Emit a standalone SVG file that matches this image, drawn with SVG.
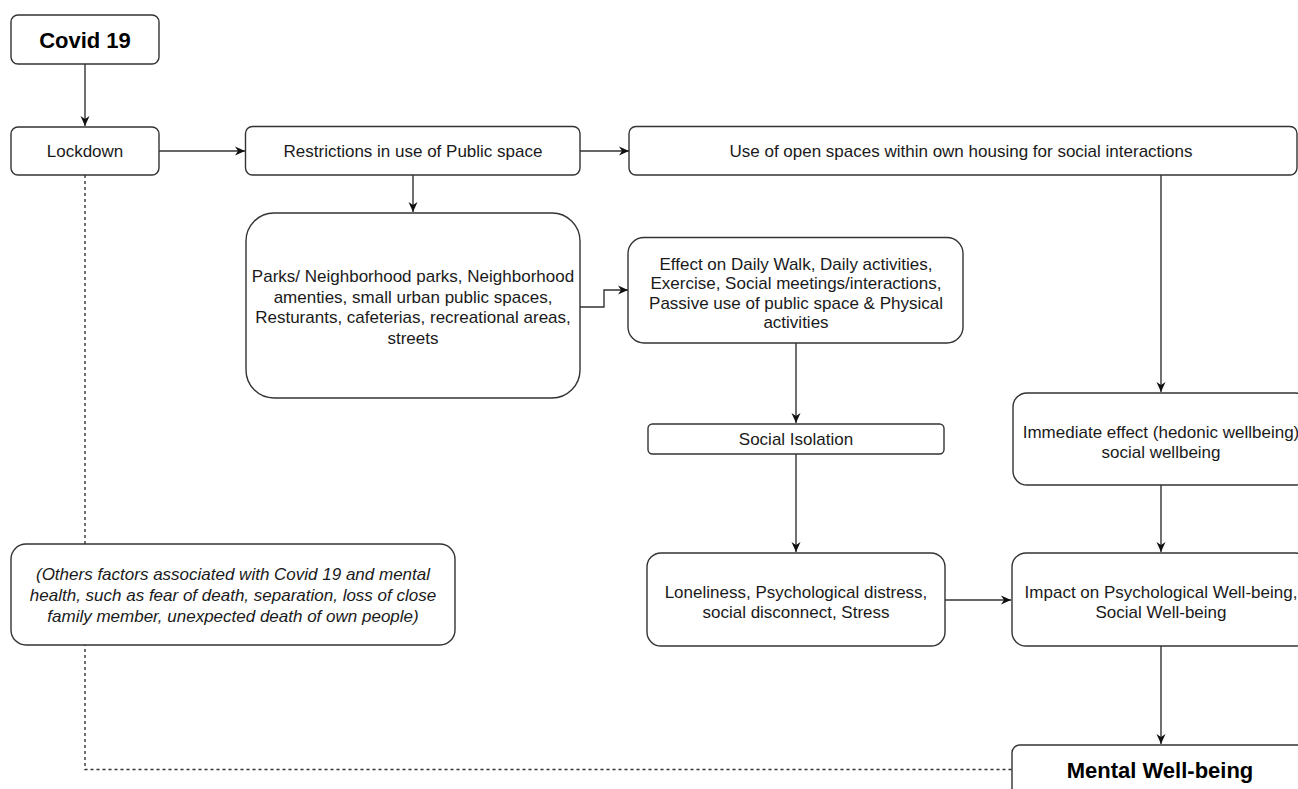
<svg xmlns="http://www.w3.org/2000/svg" width="1298" height="789" viewBox="0 0 1298 789">
<style>
.box{fill:#fff;stroke:#333;stroke-width:1.4}
.t{font-family:"Liberation Sans",Arial,sans-serif;font-size:17px;fill:#1a1a1a;text-anchor:middle}
.b{font-weight:bold;font-size:22px;fill:#000}
.i{font-style:italic}
.c{fill:none;stroke:#333;stroke-width:1.4}
.d{fill:none;stroke:#333;stroke-width:1.4;stroke-dasharray:3 3}
</style>
<defs>
<marker id="arr" markerUnits="userSpaceOnUse" markerWidth="12" markerHeight="10" refX="10" refY="5" orient="auto">
<path d="M0,0.5 L10,5 L0,9.5 L3,5 z" fill="#111"/>
</marker>
</defs>
<rect width="1298" height="789" fill="#fff"/>
<g id="connectors">
<path class="d" d="M85,175 V769.5 H1012"/>
<path class="c" d="M85,64 V126" marker-end="url(#arr)"/>
<path class="c" d="M159,151 H245" marker-end="url(#arr)"/>
<path class="c" d="M580,151 H629" marker-end="url(#arr)"/>
<path class="c" d="M413,175 V212" marker-end="url(#arr)"/>
<path class="c" d="M580,307 H604 V290 H628" marker-end="url(#arr)"/>
<path class="c" d="M796,343 V423" marker-end="url(#arr)"/>
<path class="c" d="M796,454 V552" marker-end="url(#arr)"/>
<path class="c" d="M1161,175 V392" marker-end="url(#arr)"/>
<path class="c" d="M1161,485 V552" marker-end="url(#arr)"/>
<path class="c" d="M945,600 H1011" marker-end="url(#arr)"/>
<path class="c" d="M1161,646 V744" marker-end="url(#arr)"/>
</g>
<g id="covid">
<rect class="box" x="11" y="15" width="148" height="49" rx="7"/>
<text class="t b" x="85" y="48">Covid 19</text>
</g>
<g id="lockdown">
<rect class="box" x="11" y="127" width="148" height="48" rx="7"/>
<text class="t" x="85" y="157">Lockdown</text>
</g>
<g id="restrictions">
<rect class="box" x="245.5" y="126.5" width="334.5" height="48.5" rx="7"/>
<text class="t" x="413" y="157">Restrictions in use of Public space</text>
</g>
<g id="openspaces">
<rect class="box" x="629" y="126.5" width="668" height="48.5" rx="7"/>
<text class="t" x="961" y="157">Use of open spaces within own housing for social interactions</text>
</g>
<g id="parks">
<rect class="box" x="246" y="213" width="334" height="185" rx="28"/>
<text class="t" x="413" y="282">Parks/ Neighborhood parks, Neighborhood</text>
<text class="t" x="413" y="302.5">amenties, small urban public spaces,</text>
<text class="t" x="413" y="323">Resturants, cafeterias, recreational areas,</text>
<text class="t" x="413" y="343.5">streets</text>
</g>
<g id="effect">
<rect class="box" x="628" y="237.5" width="335" height="105.5" rx="16"/>
<text class="t" x="796" y="269.5">Effect on Daily Walk, Daily activities,</text>
<text class="t" x="796" y="289">Exercise, Social meetings/interactions,</text>
<text class="t" x="796" y="308.5">Passive use of public space &amp; Physical</text>
<text class="t" x="796" y="328">activities</text>
</g>
<g id="isolation">
<rect class="box" x="648" y="424" width="296" height="30" rx="4.5"/>
<text class="t" x="796" y="445">Social Isolation</text>
</g>
<g id="immediate">
<rect class="box" x="1013" y="393" width="296" height="92" rx="14"/>
<text class="t" x="1161" y="437.5">Immediate effect (hedonic wellbeing)</text>
<text class="t" x="1161" y="457.5">social wellbeing</text>
</g>
<g id="others">
<rect class="box" x="11" y="544" width="444" height="101" rx="15"/>
<text class="t i" x="233" y="579.5">(Others factors associated with Covid 19 and mental</text>
<text class="t i" x="233" y="600.5">health, such as fear of death, separation, loss of close</text>
<text class="t i" x="233" y="621.5">family member, unexpected death of own people)</text>
</g>
<g id="loneliness">
<rect class="box" x="647" y="553" width="298" height="93" rx="14"/>
<text class="t" x="796" y="598">Loneliness, Psychological distress,</text>
<text class="t" x="796" y="617.5">social disconnect, Stress</text>
</g>
<g id="impact">
<rect class="box" x="1012" y="553" width="297" height="93" rx="14"/>
<text class="t" x="1161" y="598">Impact on Psychological Well-being,</text>
<text class="t" x="1161" y="617.5">Social Well-being</text>
</g>
<g id="mental">
<rect class="box" x="1012" y="745" width="297" height="60" rx="8"/>
<text class="t b" x="1160" y="778">Mental Well-being</text>
</g>
</svg>
